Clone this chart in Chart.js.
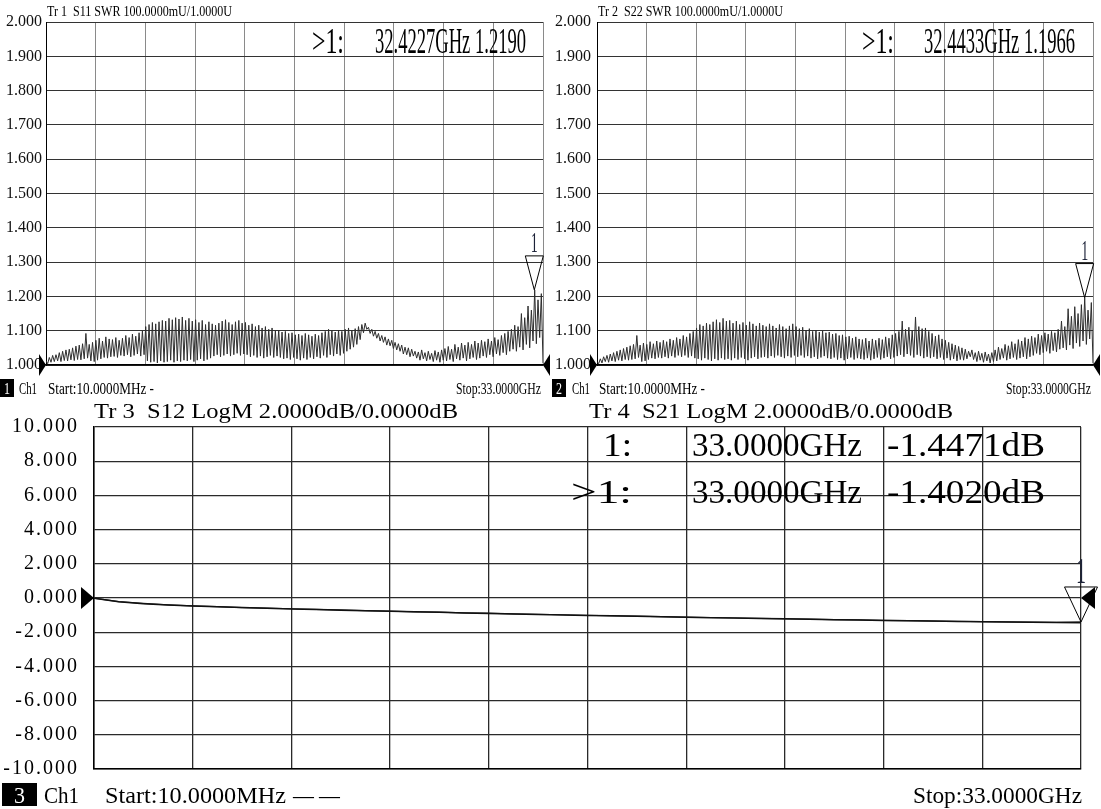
<!DOCTYPE html>
<html>
<head>
<meta charset="utf-8">
<script src="https://cdn.jsdelivr.net/npm/chart.js@4.4.1/dist/chart.umd.min.js"></script>
<style>
  html, body { margin: 0; padding: 0; background: #fff; }
  body { width: 1101px; height: 809px; position: relative; overflow: hidden; }
  canvas { position: absolute; }
  #c11 { left: 0; top: 0; }
  #c22 { left: 551px; top: 0; }
  #c21 { left: 0; top: 400px; }
</style>
</head>
<body>
<canvas id="c11" width="551" height="400"></canvas>
<canvas id="c22" width="550" height="400"></canvas>
<canvas id="c21" width="1101" height="409"></canvas>
<script>
// sweep
const startGHz = 0.01;
const stopGHz = 33.0;

// Tr1 S11 SWR, read as peak / trough pairs along the sweep
const s11Peaks = [
  1.012, 1.022, 1.028, 1.030, 1.036, 1.040, 1.044, 1.046, 1.050, 1.055,
  1.058, 1.062, 1.092, 1.060, 1.066, 1.072, 1.078, 1.070, 1.082, 1.076,
  1.074, 1.080, 1.072, 1.078, 1.086, 1.080, 1.090, 1.084, 1.094, 1.100,
  1.112, 1.118, 1.124, 1.120, 1.126, 1.130, 1.128, 1.136, 1.132, 1.138,
  1.134, 1.140, 1.130, 1.136, 1.128, 1.132, 1.124, 1.130, 1.118, 1.126,
  1.120, 1.116, 1.122, 1.128, 1.132, 1.124, 1.118, 1.126, 1.130, 1.122,
  1.124, 1.116, 1.120, 1.112, 1.116, 1.108, 1.112, 1.104, 1.108, 1.100,
  1.102, 1.096, 1.098, 1.092, 1.094, 1.088, 1.090, 1.086, 1.092, 1.088,
  1.084, 1.090, 1.086, 1.094, 1.098, 1.104, 1.100, 1.096, 1.102, 1.098,
  1.104, 1.108, 1.100, 1.106, 1.112, 1.118, 1.122, 1.110, 1.104, 1.098,
  1.092, 1.086, 1.082, 1.076, 1.072, 1.066, 1.062, 1.058, 1.052, 1.050,
  1.046, 1.040, 1.038, 1.044, 1.036, 1.040, 1.034, 1.042, 1.038, 1.044,
  1.048, 1.054, 1.046, 1.060, 1.052, 1.064, 1.058, 1.066, 1.060, 1.070,
  1.064, 1.072, 1.068, 1.076, 1.070, 1.080, 1.074, 1.086, 1.092, 1.098,
  1.104, 1.116, 1.112, 1.150, 1.138, 1.172, 1.160, 1.219, 1.190, 1.208
];
const s11Troughs = [
  1.004, 1.008, 1.010, 1.012, 1.010, 1.013, 1.012, 1.015, 1.013, 1.016,
  1.015, 1.018, 1.020, 1.012, 1.010, 1.014, 1.018, 1.022, 1.020, 1.024,
  1.025, 1.022, 1.028, 1.026, 1.030, 1.024, 1.028, 1.032, 1.026, 1.030,
  1.012, 1.008, 1.010, 1.006, 1.012, 1.008, 1.010, 1.014, 1.008, 1.012,
  1.010, 1.014, 1.012, 1.016, 1.010, 1.014, 1.018, 1.012, 1.016, 1.020,
  1.026, 1.030, 1.024, 1.028, 1.032, 1.026, 1.030, 1.034, 1.028, 1.032,
  1.030, 1.024, 1.028, 1.022, 1.026, 1.020, 1.024, 1.028, 1.022, 1.026,
  1.022, 1.018, 1.020, 1.016, 1.022, 1.018, 1.014, 1.020, 1.016, 1.022,
  1.018, 1.024, 1.020, 1.028, 1.022, 1.030, 1.026, 1.032, 1.028, 1.034,
  1.040, 1.046, 1.052, 1.060, 1.074, 1.094, 1.104, 1.092, 1.084, 1.078,
  1.070, 1.066, 1.058, 1.056, 1.048, 1.044, 1.040, 1.032, 1.030, 1.024,
  1.026, 1.020, 1.014, 1.018, 1.012, 1.016, 1.010, 1.014, 1.008, 1.014,
  1.012, 1.016, 1.010, 1.018, 1.014, 1.020, 1.012, 1.018, 1.022, 1.016,
  1.020, 1.026, 1.022, 1.030, 1.024, 1.032, 1.028, 1.036, 1.030, 1.040,
  1.046, 1.040, 1.052, 1.044, 1.060, 1.050, 1.070, 1.062, 1.080, 1.005
];

// Tr2 S22 SWR
const s22Peaks = [
  1.010, 1.018, 1.024, 1.028, 1.032, 1.036, 1.040, 1.044, 1.048, 1.052,
  1.056, 1.060, 1.086, 1.058, 1.064, 1.060, 1.068, 1.062, 1.070, 1.066,
  1.072, 1.068, 1.076, 1.072, 1.080, 1.076, 1.086, 1.082, 1.092, 1.098,
  1.108, 1.118, 1.114, 1.122, 1.118, 1.126, 1.132, 1.124, 1.136, 1.128,
  1.130, 1.122, 1.128, 1.118, 1.124, 1.116, 1.126, 1.120, 1.114, 1.122,
  1.116, 1.112, 1.120, 1.114, 1.108, 1.118, 1.112, 1.106, 1.114, 1.120,
  1.112, 1.106, 1.110, 1.102, 1.106, 1.098, 1.102, 1.096, 1.100, 1.094,
  1.096, 1.090, 1.092, 1.086, 1.088, 1.082, 1.084, 1.078, 1.082, 1.076,
  1.074, 1.078, 1.070, 1.076, 1.072, 1.078, 1.074, 1.082, 1.078, 1.088,
  1.092, 1.098, 1.128, 1.104, 1.110, 1.100, 1.140, 1.112, 1.106, 1.108,
  1.098, 1.092, 1.084, 1.088, 1.076, 1.072, 1.066, 1.062, 1.058, 1.054,
  1.050, 1.046, 1.040, 1.044, 1.036, 1.040, 1.034, 1.038, 1.032, 1.036,
  1.044, 1.052, 1.048, 1.060, 1.056, 1.068, 1.062, 1.074, 1.070, 1.080,
  1.076, 1.084, 1.080, 1.090, 1.086, 1.094, 1.090, 1.098, 1.094, 1.104,
  1.128, 1.112, 1.164, 1.142, 1.170, 1.150, 1.176, 1.197, 1.160, 1.182
];
const s22Troughs = [
  1.004, 1.006, 1.010, 1.008, 1.012, 1.010, 1.014, 1.012, 1.016, 1.014,
  1.016, 1.018, 1.022, 1.010, 1.012, 1.016, 1.020, 1.018, 1.022, 1.020,
  1.024, 1.020, 1.026, 1.022, 1.028, 1.024, 1.028, 1.022, 1.026, 1.020,
  1.018, 1.014, 1.020, 1.016, 1.012, 1.018, 1.014, 1.020, 1.016, 1.018,
  1.014, 1.020, 1.016, 1.022, 1.018, 1.014, 1.020, 1.024, 1.018, 1.022,
  1.024, 1.020, 1.026, 1.022, 1.028, 1.024, 1.020, 1.026, 1.022, 1.028,
  1.024, 1.028, 1.022, 1.026, 1.020, 1.024, 1.018, 1.022, 1.026, 1.020,
  1.018, 1.022, 1.016, 1.020, 1.014, 1.018, 1.022, 1.016, 1.020, 1.018,
  1.016, 1.020, 1.014, 1.018, 1.022, 1.016, 1.020, 1.024, 1.018, 1.022,
  1.026, 1.030, 1.024, 1.032, 1.028, 1.022, 1.030, 1.026, 1.020, 1.024,
  1.020, 1.024, 1.018, 1.022, 1.016, 1.020, 1.014, 1.018, 1.012, 1.016,
  1.014, 1.018, 1.024, 1.016, 1.010, 1.014, 1.008, 1.012, 1.006, 1.010,
  1.012, 1.016, 1.020, 1.014, 1.018, 1.022, 1.016, 1.020, 1.024, 1.018,
  1.024, 1.028, 1.034, 1.030, 1.036, 1.040, 1.034, 1.042, 1.038, 1.046,
  1.050, 1.044, 1.058, 1.048, 1.064, 1.054, 1.070, 1.060, 1.076, 1.005
];

// Tr3 S12 / Tr4 S21 LogM (dB)
const s12LogM = [
  -0.02, -0.22, -0.33, -0.41, -0.47, -0.51, -0.55, -0.60, -0.64, -0.67,
  -0.71, -0.74, -0.78, -0.80, -0.84, -0.87, -0.90, -0.93, -0.96, -0.99,
  -1.02, -1.04, -1.07, -1.10, -1.12, -1.15, -1.17, -1.20, -1.22, -1.24,
  -1.27, -1.29, -1.31, -1.33, -1.35, -1.37, -1.39, -1.41, -1.42, -1.44,
  -1.45
];
const s21LogM = [
  -0.01, -0.21, -0.32, -0.40, -0.46, -0.51, -0.56, -0.59, -0.63, -0.67,
  -0.70, -0.74, -0.77, -0.81, -0.83, -0.87, -0.89, -0.93, -0.95, -0.98,
  -1.01, -1.04, -1.06, -1.09, -1.12, -1.14, -1.17, -1.19, -1.22, -1.24,
  -1.26, -1.28, -1.31, -1.32, -1.35, -1.36, -1.38, -1.40, -1.41, -1.42,
  -1.40
];

// markers: S11, S22, S12, S21
const markerFreqGHz = [32.4227, 32.4433, 33.0, 33.0];
const markerValues = [1.2190, 1.1966, -1.4471, -1.4020];

// scales
const swrRange = [1.0, 2.0, 0.1];
const dbRange = [-10.0, 10.0, 2.0];
const swrRefLevel = 1.0;
const dbRefLevel = 0.0;

const gridFreqs = Array.from({ length: 11 }, (_, i) => startGHz + i * (stopGHz - startGHz) / 10);

const sweep = vals => vals.map((v, i) => ({
  x: startGHz + i * (stopGHz - startGHz) / (vals.length - 1),
  y: v
}));
const zigzag = (peaks, troughs) => peaks.flatMap((p, i) => [p, troughs[i]]);

Chart.defaults.font.family = '"Liberation Serif"';
Chart.defaults.color = '#000';

// text squeezed / stretched to the width it takes on the analyzer screen
function fitText(ctx, str, x, y, size, width, color) {
  ctx.save();
  ctx.letterSpacing = '0px';
  ctx.font = size + 'px "Liberation Serif"';
  ctx.fillStyle = color || '#000';
  ctx.textAlign = 'left';
  ctx.textBaseline = 'alphabetic';
  const w = ctx.measureText(str).width;
  ctx.translate(x, y);
  ctx.scale(width / w, 1);
  ctx.fillText(str, 0, 0);
  ctx.restore();
}

function refArrow(ctx, x, y, dir, w, h) {
  ctx.save();
  ctx.fillStyle = '#000';
  ctx.beginPath();
  ctx.moveTo(x, y);
  ctx.lineTo(x - dir * w, y - h / 2);
  ctx.lineTo(x - dir * w, y + h / 2);
  ctx.closePath();
  ctx.fill();
  ctx.restore();
}

function markerTri(ctx, x, y, w, h, lblSize, lblW) {
  ctx.save();
  ctx.strokeStyle = '#000';
  ctx.lineWidth = 1;
  ctx.beginPath();
  ctx.moveTo(x, y);
  ctx.lineTo(x - w / 2, y - h);
  ctx.lineTo(x + w / 2, y - h);
  ctx.closePath();
  ctx.stroke();
  ctx.restore();
  fitText(ctx, '1', x - lblW / 2, y - h - 4, lblSize, lblW, '#1c2238');
}

function statusBox(ctx, x, y, w, h, num, size, numW) {
  ctx.save();
  ctx.fillStyle = '#000';
  ctx.fillRect(x, y, w, h);
  ctx.restore();
  fitText(ctx, num, x + (w - numW) / 2, y + h - 3, size, numW, '#fff');
}

function swrChart(id, label, peaks, troughs, mk, yWidth, tickPad, padRight, texts) {
  return new Chart(document.getElementById(id), {
    type: 'line',
    data: {
      datasets: [{
        label: label,
        data: sweep(zigzag(peaks, troughs)),
        borderColor: '#2e2e2e',
        borderWidth: 1,
        pointRadius: 0,
        tension: 0
      }]
    },
    options: {
      responsive: false,
      animation: false,
      events: [],
      layout: { padding: { left: 0, top: 22, right: padRight, bottom: 35 } },
      plugins: { legend: { display: false }, tooltip: { enabled: false } },
      scales: {
        x: {
          type: 'linear', min: startGHz, max: stopGHz,
          afterBuildTicks: a => { a.ticks = gridFreqs.map(v => ({ value: v })); },
          afterFit: a => { a.height = 0; },
          ticks: { display: false },
          grid: { color: '#8a8a8a', lineWidth: 1, drawTicks: false },
          border: { color: '#000', width: 1.5 }
        },
        y: {
          min: swrRange[0], max: swrRange[1],
          afterFit: a => { a.width = yWidth; },
          ticks: {
            stepSize: swrRange[2], autoSkip: false, padding: tickPad,
            font: { size: 16 }, color: '#111',
            callback: v => v.toFixed(3)
          },
          grid: { color: '#333', lineWidth: 1, drawTicks: false },
          border: { color: '#000', width: 1 }
        }
      }
    },
    plugins: [{
      id: 'screen',
      afterDraw(chart) {
        const ctx = chart.ctx, xs = chart.scales.x, ys = chart.scales.y, ca = chart.chartArea;
        const ry = ys.getPixelForValue(swrRefLevel);
        refArrow(ctx, ca.left, ry, 1, 7, 22);
        refArrow(ctx, ca.right, ry, -1, 7, 22);
        markerTri(ctx, xs.getPixelForValue(markerFreqGHz[mk]), ys.getPixelForValue(markerValues[mk]), 18, 34, 30, 7);
        texts(ctx);
      }
    }]
  });
}

swrChart('c11', 'S11', s11Peaks, s11Troughs, 0, 46, 4, 8, ctx => {
  fitText(ctx, 'Tr 1  S11 SWR 100.0000mU/1.0000U', 47, 16, 15, 185);
  fitText(ctx, '>1:', 312, 53, 36, 32);
  fitText(ctx, markerFreqGHz[0].toFixed(4) + 'GHz ' + markerValues[0].toFixed(4), 375, 53, 36, 151);
  statusBox(ctx, 0, 379, 14, 18, '1', 16, 6);
  fitText(ctx, 'Ch1', 19, 394, 16, 18);
  fitText(ctx, 'Start:10.0000MHz -', 48, 394, 16, 106);
  fitText(ctx, 'Stop:33.0000GHz', 456, 394, 16, 85);
});

swrChart('c22', 'S22', s22Peaks, s22Troughs, 1, 46, 6, 8, ctx => {
  fitText(ctx, 'Tr 2  S22 SWR 100.0000mU/1.0000U', 47, 16, 15, 185);
  fitText(ctx, '>1:', 311, 53, 36, 32);
  fitText(ctx, markerFreqGHz[1].toFixed(4) + 'GHz ' + markerValues[1].toFixed(4), 373, 53, 36, 151);
  statusBox(ctx, 1, 379, 14, 18, '2', 16, 6);
  fitText(ctx, 'Ch1', 21, 394, 16, 18);
  fitText(ctx, 'Start:10.0000MHz -', 48, 394, 16, 106);
  fitText(ctx, 'Stop:33.0000GHz', 455, 394, 16, 85);
});

new Chart(document.getElementById('c21'), {
  type: 'line',
  data: {
    datasets: [
      { label: 'S12', data: sweep(s12LogM), borderColor: '#111', borderWidth: 1.5, pointRadius: 0, tension: 0 },
      { label: 'S21', data: sweep(s21LogM), borderColor: '#222', borderWidth: 1.2, pointRadius: 0, tension: 0 }
    ]
  },
  options: {
    responsive: false,
    animation: false,
    events: [],
    layout: { padding: { left: 0, top: 25.5, right: 20, bottom: 40 } },
    plugins: { legend: { display: false }, tooltip: { enabled: false } },
    scales: {
      x: {
        type: 'linear', min: startGHz, max: stopGHz,
        afterBuildTicks: a => { a.ticks = gridFreqs.map(v => ({ value: v })); },
        afterFit: a => { a.height = 0; },
        ticks: { display: false },
        grid: { color: '#2a2a2a', lineWidth: 1.3, drawTicks: false },
        border: { color: '#000', width: 1.5 }
      },
      y: {
        min: dbRange[0], max: dbRange[1],
        afterFit: a => { a.width = 94; },
        ticks: {
          stepSize: dbRange[2], autoSkip: false, padding: 15,
          font: { size: 20 }, color: '#000',
          callback: v => v.toFixed(3)
        },
        grid: { color: '#2a2a2a', lineWidth: 1.3, drawTicks: false },
        border: { color: '#000', width: 1.5 }
      }
    }
  },
  plugins: [{
    id: 'screen',
    beforeDraw(chart) { chart.ctx.letterSpacing = '2px'; },
    afterDraw(chart) {
      const ctx = chart.ctx, xs = chart.scales.x, ys = chart.scales.y, ca = chart.chartArea;
      ctx.letterSpacing = '0px';
      fitText(ctx, 'Tr 3  S12 LogM 2.0000dB/0.0000dB', 94, 18, 20, 364);
      fitText(ctx, 'Tr 4  S21 LogM 2.0000dB/0.0000dB', 589, 18, 20, 364);
      const rows = [[2, '1:', 603, 29, 56], [3, '>1:', 571, 61, 103]];
      rows.forEach(([i, pre, px, pw, by]) => {
        fitText(ctx, pre, px, by, 33, pw);
        fitText(ctx, markerFreqGHz[i].toFixed(4) + 'GHz', 692, by, 33, 170);
        fitText(ctx, markerValues[i].toFixed(4) + 'dB', 887, by, 33, 158);
      });
      const ry = ys.getPixelForValue(dbRefLevel);
      refArrow(ctx, ca.left, ry, 1, 13, 22);
      refArrow(ctx, ca.right, ry, -1, 14, 22);
      markerTri(ctx, xs.getPixelForValue(markerFreqGHz[3]), ys.getPixelForValue(markerValues[3]), 33, 35, 36, 10);
      statusBox(ctx, 2, 383, 35, 23, '3', 24, 11);
      fitText(ctx, 'Ch1', 44, 403, 24, 35);
      fitText(ctx, 'Start:10.0000MHz', 105, 403, 24, 181);
      fitText(ctx, '— —', 293, 403, 24, 47);
      fitText(ctx, 'Stop:33.0000GHz', 913, 403, 24, 169);
    }
  }]
});
</script>
</body>
</html>
